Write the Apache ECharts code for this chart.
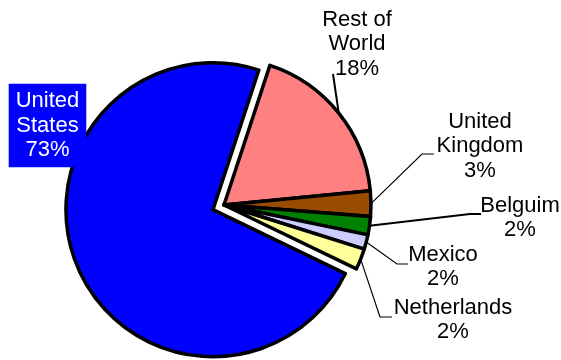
<!DOCTYPE html>
<html>
<head>
<meta charset="utf-8">
<script src="https://cdn.jsdelivr.net/npm/echarts@6/dist/echarts.min.js"></script>
<style>html,body{margin:0;padding:0;background:#fff;}#c{width:561px;height:360px;}</style>
</head>
<body>
<div id="c"></div>
<script>
// Data
var categories = ['Rest of\nWorld', 'United\nKingdom', 'Belguim', 'Mexico', 'Netherlands', 'United\nStates'];
var values = [18.4, 2.8, 2.0, 1.6, 2.3, 72.9];
var colors = ['#FF8080', '#994C00', '#008000', '#CCCCFF', '#FFFF99', '#0000FF'];

// Label layout (center of text, elbow point, end point of leader)
var labelPos = [
  {x: 357, y: 44, elbow: [333, 74], end: [333, 74]},
  {x: 480, y: 146, elbow: [422, 154], end: [434, 154]},
  {x: 520, y: 218, elbow: [470, 214], end: [481, 214]},
  {x: 443, y: 267, elbow: [397, 264], end: [408, 264]},
  {x: 453, y: 320, elbow: [380, 317], end: [392, 317]},
  {x: 47.5, y: 125.5, elbow: null, end: null}
];
var lineWidths = [2, 1.2, 2, 1.2, 1.2, 1];

var chart = echarts.init(document.getElementById('c'), null, {renderer: 'canvas'});
var data = categories.map(function (name, i) {
  var item = {
    name: name,
    value: values[i],
    itemStyle: {color: colors[i]},
    labelLine: {show: i !== 5, lineStyle: {color: '#000', width: lineWidths[i]}}
  };
  if (i === 5) {
    item.selected = true;
    item.label = {
      color: '#fff',
      backgroundColor: '#0000FF',
      padding: [5, 7, 5, 7]
    };
  }
  return item;
});

chart.setOption({
  animation: false,
  series: [{
    type: 'pie',
    center: [224, 205],
    radius: 147,
    startAngle: 71.8,
    clockwise: true,
    selectedMode: 'single',
    selectedOffset: 12,
    avoidLabelOverlap: false,
    emphasis: {disabled: true},
    itemStyle: {borderColor: '#000', borderWidth: 3.5},
    label: {
      show: true,
      position: 'outside',
      fontFamily: 'Liberation Sans, Arial, sans-serif',
      fontSize: 22,
      lineHeight: 24.5,
      color: '#000',
      align: 'center',
      formatter: function (p) {
        return p.name + '\n' + Math.round(p.value) + '%';
      }
    },
    labelLine: {show: true, length: 10, length2: 10},
    labelLayout: function (params) {
      var lp = labelPos[params.dataIndex];
      var res = {x: lp.x, y: lp.y, align: 'center', verticalAlign: 'middle'};
      if (lp.elbow && params.labelLinePoints) {
        res.labelLinePoints = [params.labelLinePoints[0], lp.elbow, lp.end];
      }
      return res;
    },
    data: data
  }]
});
// Place the US label box exactly (the selected slice shifts its label)
(function () {
  var series = chart.getModel().getSeriesByIndex(0);
  var el = series.getData().getItemGraphicEl(5);
  var label = el && el.getTextContent();
  if (label) {
    var r = label.getBoundingRect().clone();
    r.applyTransform(label.getComputedTransform());
    var cx = r.x + r.width / 2, cy = r.y + r.height / 2;
    var target = labelPos[5];
    label.x += target.x - cx;
    label.y += target.y - cy;
    label.markRedraw();
    chart.getZr().refreshImmediately();
  }
})();
</script>
</body>
</html>
